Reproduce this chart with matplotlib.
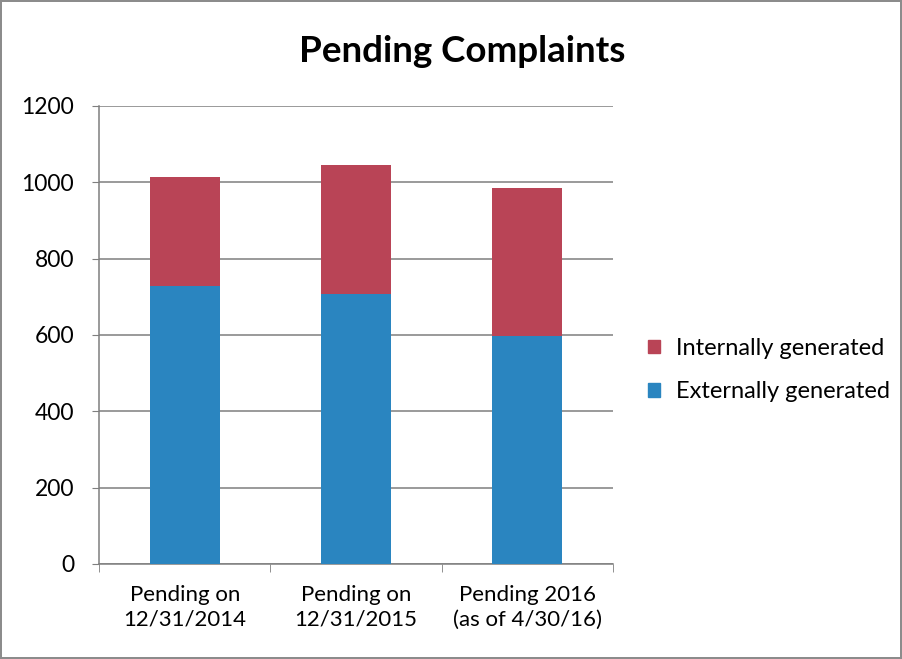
import numpy as np
import matplotlib.pyplot as plt
from matplotlib.patches import Rectangle

# dados
categorias = ['Pending on\n12/31/2014', 'Pending on\n12/31/2015', 'Pending 2016\n(as of 4/30/16)']
externos = [727, 707, 596]
internos = [287, 338, 388]

plt.rcParams['font.family'] = ['Lato', 'DejaVu Sans']

cor_int = '#B94456'
cor_ext = '#2A85C0'
cinza = '#7F7F7F'

fig = plt.figure(figsize=(9.02, 6.59), dpi=100)
fig.patch.set_edgecolor('#8C8C8C')
fig.patch.set_linewidth(1.5)
ax = fig.add_axes([0.1098, 0.1442, 0.5698, 0.695])

x = np.arange(len(categorias))
largura = 0.41
ax.bar(x, externos, largura, color=cor_ext, label='Externally generated', zorder=3)
ax.bar(x, internos, largura, bottom=externos, color=cor_int, label='Internally generated', zorder=3)

ax.set_xlim(-0.5, len(categorias) - 0.5)
ax.set_ylim(0, 1200)
ax.set_yticks(range(0, 1201, 200))
ax.tick_params(axis='y', labelsize=16.5, length=5, color=cinza, pad=13)
ax.yaxis.grid(True, color=cinza, linewidth=1.1, zorder=0)

ax.set_xticks(x)
ax.set_xticklabels(categorias, fontsize=16, linespacing=1.3)
ax.tick_params(axis='x', length=0, pad=15)
ax.set_xticks(np.arange(-0.5, len(categorias)), minor=True)
ax.tick_params(axis='x', which='minor', length=6, color=cinza)

for s in ['top', 'right']:
    ax.spines[s].set_visible(False)
for s in ['left', 'bottom']:
    ax.spines[s].set_color(cinza)
    ax.spines[s].set_linewidth(1.1)

fig.text(0.512, 0.922, 'Pending Complaints', fontsize=26.5, fontweight='bold',
         ha='center', va='center')

handles = [Rectangle((0, 0), 1, 1, color=cor_int), Rectangle((0, 0), 1, 1, color=cor_ext)]
fig.legend(handles, ['Internally generated', 'Externally generated'],
           loc='center left', bbox_to_anchor=(0.695, 0.4385), frameon=False,
           fontsize=17, handlelength=0.5, handleheight=0.5, handletextpad=0.7,
           labelspacing=0.95)

plt.savefig('out.png', dpi=100, edgecolor=fig.get_edgecolor())
